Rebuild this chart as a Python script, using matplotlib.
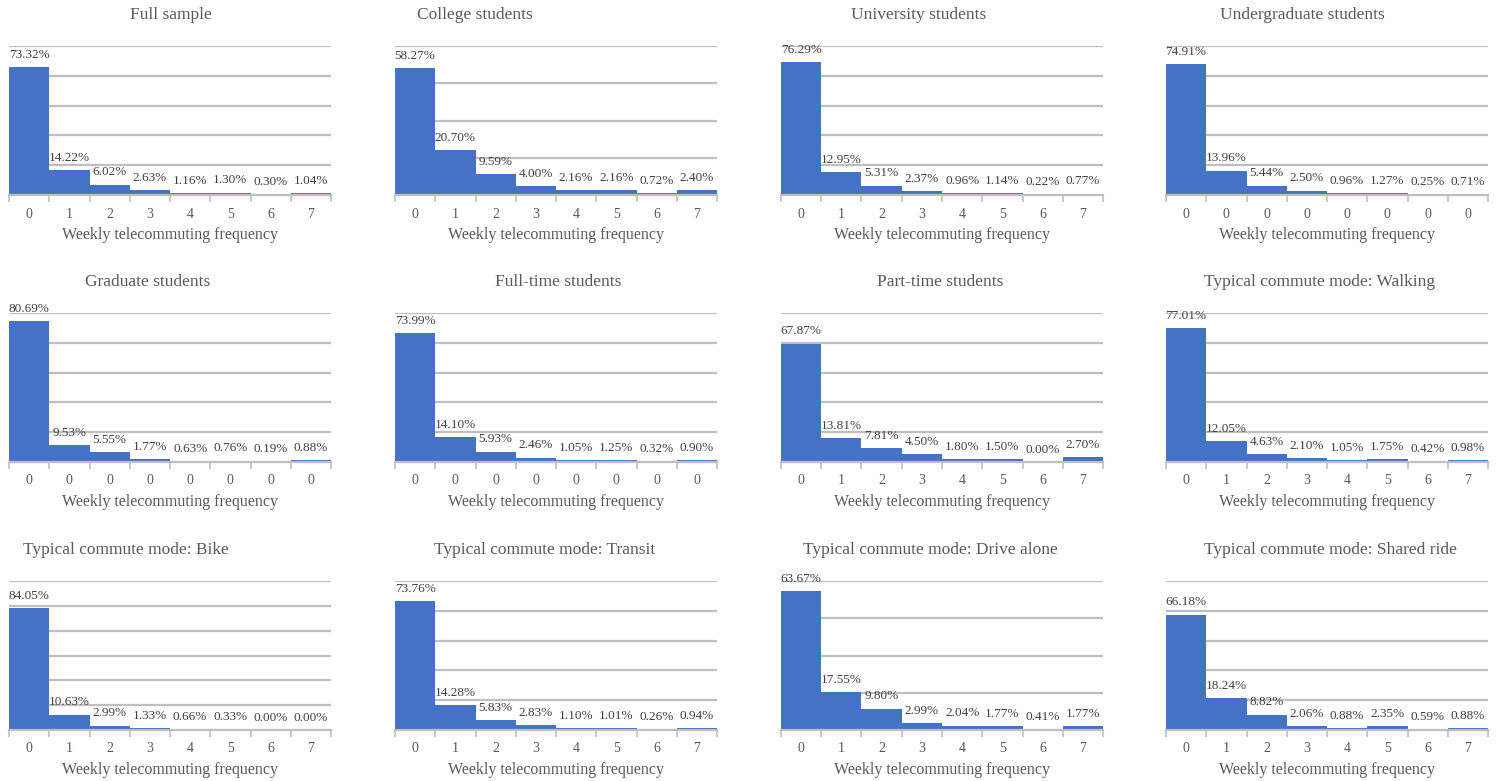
#!/usr/bin/env python3

import math
import numpy as np
from matplotlib import pyplot as plt

plt.rcParams['font.family'] = ['Liberation Serif', 'DejaVu Serif']

# Panel titles
titles = [
    'Full sample', 'College students', 'University students', 'Undergraduate students',
    'Graduate students', 'Full-time students', 'Part-time students', 'Typical commute mode: Walking',
    'Typical commute mode: Bike', 'Typical commute mode: Transit',
    'Typical commute mode: Drive alone', 'Typical commute mode: Shared ride',
]

# Share of respondents (%) by weekly telecommuting frequency 0..7
full_sample = [73.32, 14.22, 6.02, 2.63, 1.16, 1.30, 0.30, 1.04]
college = [58.27, 20.70, 9.59, 4.00, 2.16, 2.16, 0.72, 2.40]
university = [76.29, 12.95, 5.31, 2.37, 0.96, 1.14, 0.22, 0.77]
undergraduate = [74.91, 13.96, 5.44, 2.50, 0.96, 1.27, 0.25, 0.71]
graduate = [80.69, 9.53, 5.55, 1.77, 0.63, 0.76, 0.19, 0.88]
full_time = [73.99, 14.10, 5.93, 2.46, 1.05, 1.25, 0.32, 0.90]
part_time = [67.87, 13.81, 7.81, 4.50, 1.80, 1.50, 0.00, 2.70]
walking = [77.01, 12.05, 4.63, 2.10, 1.05, 1.75, 0.42, 0.98]
bike = [84.05, 10.63, 2.99, 1.33, 0.66, 0.33, 0.00, 0.00]
transit = [73.76, 14.28, 5.83, 2.83, 1.10, 1.01, 0.26, 0.94]
drive_alone = [63.67, 17.55, 9.80, 2.99, 2.04, 1.77, 0.41, 1.77]
shared_ride = [66.18, 18.24, 8.82, 2.06, 0.88, 2.35, 0.59, 0.88]

series = [full_sample, college, university, undergraduate,
          graduate, full_time, part_time, walking,
          bike, transit, drive_alone, shared_ride]

# Tick labels (some panels in the original show "0" everywhere)
freq_labels = ['0', '1', '2', '3', '4', '5', '6', '7']
zero_labels = ['0'] * 8
tick_labels = [freq_labels, freq_labels, freq_labels, zero_labels,
               zero_labels, zero_labels, freq_labels, freq_labels,
               freq_labels, freq_labels, freq_labels, freq_labels]

# Layout (pixels)
W, H = 1501, 781
col_left = [9, 395, 781, 1166]
row_top = [46, 313, 581]
plot_w, plot_h = 322, 149
title_x = [171, 475, 919, 1302, 148, 558, 940, 1320, 126, 545, 930, 1330]
grid_step = 17.1

bar_color = '#4472C4'
grid_color = '#BFBFBF'
text_gray = '#595959'
label_gray = '#404040'


def plot_panel(fig, i):
    r, c = divmod(i, 4)
    left, top = col_left[c], row_top[r]
    ax = fig.add_axes([left / W, 1 - (top + plot_h) / H, plot_w / W, plot_h / H])
    vals = series[i]
    x = np.arange(len(vals))
    ax.bar(x, vals, width=1.0, color=bar_color, zorder=3)

    n_steps = math.ceil(1.05 * max(vals) / grid_step)
    ymax = n_steps * grid_step
    ax.set_ylim(0, ymax)
    ax.set_xlim(-0.5, 7.5)
    for k in range(1, n_steps + 1):
        ax.axhline(k * grid_step, color=grid_color, lw=1.6, zorder=1)
    ax.axhline(0, color=grid_color, lw=1.6, zorder=4, clip_on=False)

    for xi, v in zip(x, vals):
        ax.annotate(f'{v:.2f}%', (xi, v), xytext=(0, 4.5), textcoords='offset points',
                    ha='center', va='bottom', fontsize=9.5, color=label_gray,
                    zorder=5, annotation_clip=False)

    # ticks at category boundaries, labels at centres
    ax.set_xticks(np.arange(-0.5, 8, 1.0))
    ax.set_xticklabels([])
    ax.tick_params(axis='x', length=5, width=1.2, color=grid_color, direction='out')
    ax.set_xticks(x, minor=True)
    ax.set_xticklabels(tick_labels[i], minor=True)
    ax.tick_params(axis='x', which='minor', length=0, pad=9, labelsize=10, labelcolor=text_gray)
    ax.set_yticks([])
    for s in ax.spines.values():
        s.set_visible(False)

    fig.text(left / W + plot_w / W / 2, 1 - (top + plot_h + 40) / H,
             'Weekly telecommuting frequency', ha='center', va='center',
             fontsize=11.5, color=text_gray)
    fig.text(title_x[i] / W, 1 - (top - 31) / H, titles[i], ha='center', va='center',
             fontsize=12.5, color=text_gray)


def main():
    fig = plt.figure(figsize=(W / 100, H / 100), dpi=100)
    for i in range(len(series)):
        plot_panel(fig, i)
    fig.savefig('out.png', dpi=100)


if __name__ == "__main__":
    main()
